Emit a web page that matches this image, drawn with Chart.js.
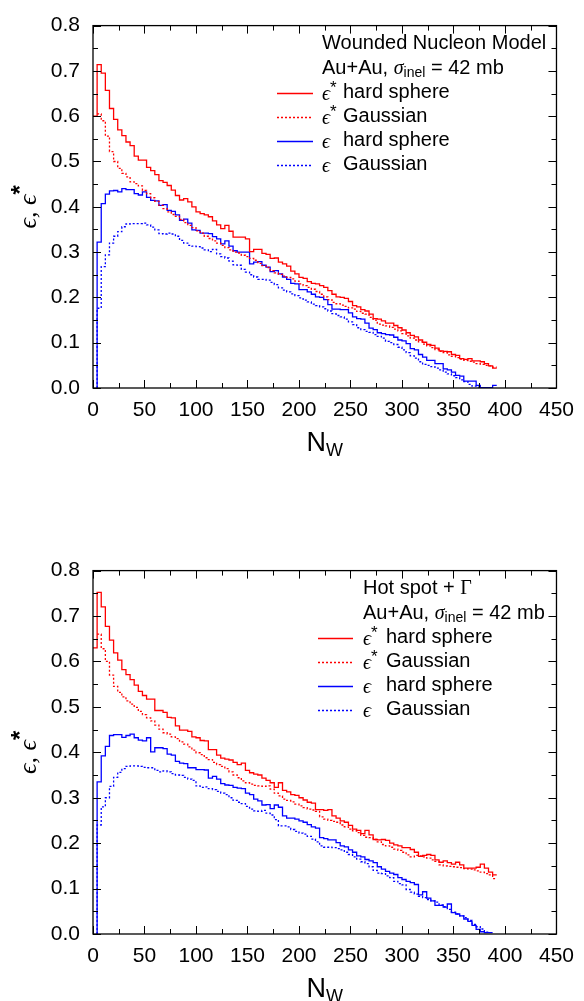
<!DOCTYPE html>
<html>
<head>
<meta charset="utf-8">
<script src="https://cdn.jsdelivr.net/npm/chart.js@4.4.1/dist/chart.umd.min.js"></script>
<style>
html, body { margin: 0; padding: 0; background: #fff; overflow: hidden; }
.panel { position: absolute; left: 0; width: 584px; }
#top { top: 0; height: 545px; }
#bottom { top: 545px; height: 456px; }
</style>
</head>
<body>
<div class="panel" id="top"><canvas id="chartTop"></canvas></div>
<div class="panel" id="bottom"><canvas id="chartBottom"></canvas></div>
<script>
// left edges of the N_W bins (width 4)
const binWidth = 4;
const nwEdges = [
	0, 4, 8, 12, 16, 20, 24, 28, 32, 36,
	40, 44, 48, 52, 56, 60, 64, 68, 72, 76,
	80, 84, 88, 92, 96, 100, 104, 108, 112, 116,
	120, 124, 128, 132, 136, 140, 144, 148, 152, 156,
	160, 164, 168, 172, 176, 180, 184, 188, 192, 196,
	200, 204, 208, 212, 216, 220, 224, 228, 232, 236,
	240, 244, 248, 252, 256, 260, 264, 268, 272, 276,
	280, 284, 288, 292, 296, 300, 304, 308, 312, 316,
	320, 324, 328, 332, 336, 340, 344, 348, 352, 356,
	360, 364, 368, 372, 376, 380, 384, 388
];

// Wounded Nucleon Model
const wnmHardStar = [
	0.600, 0.714, 0.695, 0.657, 0.617, 0.593, 0.570, 0.557, 0.543, 0.535,
	0.512, 0.503, 0.503, 0.487, 0.480, 0.471, 0.458, 0.454, 0.447, 0.437,
	0.425, 0.415, 0.418, 0.411, 0.400, 0.389, 0.385, 0.382, 0.378, 0.369,
	0.360, 0.352, 0.359, 0.346, 0.333, 0.333, 0.333, 0.329, 0.301, 0.306,
	0.306, 0.297, 0.295, 0.286, 0.287, 0.278, 0.274, 0.269, 0.258, 0.252,
	0.244, 0.242, 0.235, 0.231, 0.230, 0.226, 0.222, 0.215, 0.207, 0.201,
	0.200, 0.198, 0.191, 0.182, 0.179, 0.173, 0.170, 0.163, 0.153, 0.152,
	0.148, 0.143, 0.143, 0.138, 0.133, 0.128, 0.122, 0.116, 0.113, 0.106,
	0.101, 0.096, 0.094, 0.088, 0.082, 0.081, 0.080, 0.074, 0.072, 0.065,
	0.063, 0.065, 0.060, 0.060, 0.058, 0.054, 0.049, 0.044
];
const wnmGaussStar = [
	null, 0.605, 0.590, 0.556, 0.522, 0.500, 0.485, 0.474, 0.466, 0.455,
	0.451, 0.446, 0.436, 0.429, 0.420, 0.412, 0.403, 0.396, 0.389, 0.383,
	0.379, 0.372, 0.365, 0.359, 0.354, 0.347, 0.342, 0.335, 0.330, 0.325,
	0.320, 0.315, 0.310, 0.305, 0.300, 0.298, 0.293, 0.290, 0.286, 0.282,
	0.275, 0.270, 0.266, 0.259, 0.254, 0.251, 0.247, 0.244, 0.241, 0.236,
	0.230, 0.226, 0.222, 0.218, 0.213, 0.207, 0.201, 0.195, 0.189, 0.186,
	0.183, 0.180, 0.177, 0.174, 0.169, 0.165, 0.163, 0.156, 0.150, 0.141,
	0.139, 0.137, 0.134, 0.130, 0.126, 0.120, 0.115, 0.110, 0.106, 0.102,
	0.097, 0.093, 0.089, 0.085, 0.081, 0.078, 0.073, 0.070, 0.067, 0.064,
	0.061, 0.059, 0.057, 0.054, 0.052, 0.050, 0.049, 0.046
];
const wnmHard = [
	null, 0.322, 0.407, 0.428, 0.435, 0.436, 0.433, 0.440, 0.438, 0.438,
	0.429, 0.426, 0.433, 0.421, 0.414, 0.413, 0.403, 0.405, 0.392, 0.390,
	0.382, 0.370, 0.373, 0.364, 0.349, 0.348, 0.342, 0.342, 0.341, 0.334,
	0.329, 0.318, 0.325, 0.313, 0.303, 0.300, 0.300, 0.300, 0.274, 0.278,
	0.279, 0.271, 0.267, 0.257, 0.259, 0.252, 0.245, 0.240, 0.231, 0.230,
	0.217, 0.217, 0.212, 0.207, 0.201, 0.200, 0.195, 0.184, 0.174, 0.174,
	0.173, 0.173, 0.166, 0.157, 0.153, 0.152, 0.143, 0.132, 0.129, 0.122,
	0.120, 0.118, 0.117, 0.112, 0.106, 0.104, 0.098, 0.087, 0.084, 0.074,
	0.068, 0.061, 0.061, 0.054, 0.054, 0.042, 0.040, 0.035, 0.028, 0.026,
	0.015, 0.015, 0.015, 0.006, 0.001, 0.001, 0.001, 0.006
];
const wnmGauss = [
	null, 0.176, 0.268, 0.294, 0.320, 0.335, 0.345, 0.356, 0.362, 0.363,
	0.363, 0.363, 0.364, 0.360, 0.355, 0.349, 0.341, 0.340, 0.342, 0.340,
	0.335, 0.326, 0.320, 0.315, 0.313, 0.312, 0.309, 0.305, 0.301, 0.306,
	0.296, 0.290, 0.287, 0.280, 0.272, 0.271, 0.262, 0.256, 0.250, 0.245,
	0.240, 0.240, 0.238, 0.233, 0.228, 0.221, 0.216, 0.212, 0.208, 0.204,
	0.199, 0.194, 0.190, 0.185, 0.182, 0.179, 0.175, 0.170, 0.164, 0.160,
	0.157, 0.152, 0.146, 0.140, 0.133, 0.129, 0.125, 0.123, 0.118, 0.114,
	0.110, 0.103, 0.100, 0.096, 0.090, 0.084, 0.078, 0.071, 0.066, 0.058,
	0.052, 0.050, 0.047, 0.044, 0.040, 0.035, 0.031, 0.027, 0.023, 0.018,
	0.014, 0.008, 0.004, 0.002, 0.001, null, null, null
];

// Hot spot + Gamma
const hotHardStar = [
	0.630, 0.752, 0.720, 0.677, 0.647, 0.619, 0.603, 0.582, 0.571, 0.560,
	0.548, 0.534, 0.525, 0.517, 0.517, 0.492, 0.492, 0.488, 0.477, 0.476,
	0.458, 0.449, 0.449, 0.446, 0.434, 0.432, 0.426, 0.425, 0.406, 0.406,
	0.394, 0.387, 0.385, 0.383, 0.378, 0.373, 0.376, 0.360, 0.355, 0.352,
	0.350, 0.343, 0.338, 0.333, 0.323, 0.333, 0.316, 0.313, 0.307, 0.305,
	0.300, 0.295, 0.290, 0.288, 0.274, 0.274, 0.272, 0.274, 0.260, 0.255,
	0.249, 0.246, 0.239, 0.231, 0.228, 0.221, 0.228, 0.218, 0.208, 0.207,
	0.208, 0.206, 0.200, 0.196, 0.194, 0.190, 0.190, 0.186, 0.180, 0.171,
	0.173, 0.175, 0.173, 0.163, 0.158, 0.161, 0.157, 0.154, 0.158, 0.152,
	0.145, 0.145, 0.145, 0.147, 0.154, 0.145, 0.136, 0.130
];
const hotGaussStar = [
	null, 0.660, 0.628, 0.600, 0.570, 0.545, 0.532, 0.522, 0.513, 0.506,
	0.499, 0.490, 0.483, 0.476, 0.469, 0.460, 0.451, 0.443, 0.440, 0.434,
	0.430, 0.423, 0.418, 0.412, 0.405, 0.399, 0.395, 0.388, 0.384, 0.378,
	0.373, 0.369, 0.364, 0.357, 0.350, 0.344, 0.337, 0.333, 0.330, 0.327,
	0.326, 0.325, 0.326, 0.319, 0.310, 0.304, 0.297, 0.294, 0.291, 0.286,
	0.282, 0.278, 0.275, 0.273, 0.270, 0.258, 0.253, 0.250, 0.248, 0.246,
	0.240, 0.236, 0.231, 0.227, 0.223, 0.217, 0.213, 0.212, 0.208, 0.203,
	0.197, 0.194, 0.191, 0.187, 0.184, 0.180, 0.174, 0.170, 0.173, 0.172,
	0.170, 0.167, 0.163, 0.160, 0.152, 0.150, 0.149, 0.148, 0.147, 0.146,
	0.144, 0.143, 0.141, 0.139, 0.136, 0.133, 0.130, 0.122
];
const hotHard = [
	null, 0.335, 0.392, 0.413, 0.437, 0.439, 0.439, 0.433, 0.437, 0.440,
	0.432, 0.427, 0.425, 0.432, 0.401, 0.410, 0.410, 0.408, 0.396, 0.394,
	0.380, 0.376, 0.375, 0.366, 0.366, 0.362, 0.362, 0.361, 0.343, 0.347,
	0.341, 0.331, 0.328, 0.327, 0.323, 0.321, 0.320, 0.310, 0.307, 0.297,
	0.293, 0.284, 0.285, 0.276, 0.284, 0.279, 0.260, 0.255, 0.255, 0.253,
	0.249, 0.246, 0.241, 0.236, 0.233, 0.212, 0.210, 0.207, 0.207, 0.201,
	0.194, 0.192, 0.185, 0.180, 0.172, 0.170, 0.164, 0.161, 0.157, 0.148,
	0.143, 0.138, 0.134, 0.131, 0.124, 0.120, 0.116, 0.113, 0.109, 0.086,
	0.093, 0.079, 0.073, 0.063, 0.063, 0.059, 0.066, 0.047, 0.044, 0.040,
	0.033, 0.028, 0.019, 0.010, 0.005, 0.003, 0.003, null
];
const hotGauss = [
	null, 0.240, 0.280, 0.300, 0.325, 0.345, 0.356, 0.364, 0.369, 0.370,
	0.370, 0.369, 0.367, 0.366, 0.366, 0.360, 0.357, 0.359, 0.357, 0.353,
	0.350, 0.349, 0.345, 0.341, 0.338, 0.326, 0.323, 0.324, 0.320, 0.318,
	0.314, 0.310, 0.307, 0.300, 0.294, 0.290, 0.287, 0.281, 0.275, 0.271,
	0.270, 0.272, 0.266, 0.262, 0.252, 0.238, 0.238, 0.236, 0.230, 0.226,
	0.222, 0.220, 0.215, 0.209, 0.203, 0.194, 0.191, 0.191, 0.190, 0.188,
	0.185, 0.180, 0.175, 0.170, 0.165, 0.159, 0.155, 0.148, 0.140, 0.134,
	0.133, 0.128, 0.124, 0.116, 0.111, 0.108, 0.098, 0.092, 0.088, 0.083,
	0.080, 0.076, 0.073, 0.070, 0.064, 0.060, 0.054, 0.048, 0.044, 0.040,
	0.036, 0.030, 0.021, 0.016, 0.011, 0.004, null, null
];

const legendLabels = ['hard sphere', 'Gaussian', 'hard sphere', 'Gaussian'];
const legendStarred = [true, true, false, false];
const headingTop = [['Wounded Nucleon Model', 'sans']];
const headingBottom = [['Hot spot + ', 'sans'], ['Γ', 'serif']];

const SANS = "'Liberation Sans', Arial, Helvetica, sans-serif";
const SERIF = "'Liberation Serif', 'DejaVu Serif', 'Times New Roman', serif";
const RED = 'rgb(255, 0, 0)';
const BLUE = 'rgb(0, 0, 255)';

Chart.defaults.font.family = SANS;
Chart.defaults.color = '#000';

function toSteps(values, riseFromZero) {
	const pts = [];
	let last = -1;
	values.forEach((v, i) => {
		if (v === null) {
			return;
		}
		if (last < 0 && riseFromZero) {
			pts.push({ x: nwEdges[i], y: 0 });
		}
		pts.push({ x: nwEdges[i], y: v });
		last = i;
	});
	pts.push({ x: nwEdges[last] + binWidth, y: values[last] });
	return pts;
}

function makeDatasets(hardStar, gaussStar, hard, gauss) {
	const base = { stepped: true, pointRadius: 0, fill: false, borderWidth: 1.3 };
	return [
		{ data: toSteps(hardStar, false), borderColor: RED },
		{ data: toSteps(gaussStar, false), borderColor: RED, borderDash: [2, 2] },
		{ data: toSteps(hard, true), borderColor: BLUE },
		{ data: toSteps(gauss, true), borderColor: BLUE, borderDash: [2, 2] }
	].map((d) => Object.assign({}, base, d));
}

function drawRuns(ctx, x, y, runs) {
	runs.forEach((r) => {
		ctx.font = r.font;
		ctx.fillText(r.text, x, y + (r.dy || 0));
		x += ctx.measureText(r.text).width;
	});
	return x;
}

function runsWidth(ctx, runs) {
	let w = 0;
	runs.forEach((r) => {
		ctx.font = r.font;
		w += ctx.measureText(r.text).width;
	});
	return w;
}

const panelDecor = {
	id: 'panelDecor',
	afterDraw(chart, args, opts) {
		const { ctx, chartArea: a, scales } = chart;
		const x = scales.x;
		const y = scales.y;
		ctx.save();

		// inward ticks on all four sides
		ctx.strokeStyle = '#000';
		ctx.lineWidth = 1;
		ctx.beginPath();
		for (let v = 0; v <= 450; v += 25) {
			const px = Math.round(x.getPixelForValue(v)) + 0.5;
			const len = v % 50 === 0 ? 8 : 5;
			ctx.moveTo(px, a.bottom);
			ctx.lineTo(px, a.bottom - len);
			ctx.moveTo(px, a.top);
			ctx.lineTo(px, a.top + len);
		}
		for (let k = 0; k <= 16; k += 1) {
			const py = Math.round(y.getPixelForValue(k * 0.05)) + 0.5;
			const len = k % 2 === 0 ? 8 : 5;
			ctx.moveTo(a.left, py);
			ctx.lineTo(a.left + len, py);
			ctx.moveTo(a.right, py);
			ctx.lineTo(a.right - len, py);
		}
		ctx.stroke();
		ctx.lineWidth = 1.3;
		ctx.strokeRect(a.left, a.top, a.right - a.left, a.bottom - a.top);

		ctx.fillStyle = '#000';
		ctx.textAlign = 'left';

		// x axis title N_W
		ctx.textBaseline = 'alphabetic';
		const xTitle = [
			{ text: 'N', font: `27px ${SANS}` },
			{ text: 'W', font: `18px ${SANS}`, dy: 5 }
		];
		const xw = runsWidth(ctx, xTitle);
		drawRuns(ctx, (a.left + a.right) / 2 - xw / 2, a.bottom + 63, xTitle);

		// y axis title
		const yTitle = [
			{ text: 'ϵ, ϵ', font: `italic 26px ${SERIF}` },
			{ text: '*', font: `bold 24px ${SANS}`, dy: -8 }
		];
		const yw = runsWidth(ctx, yTitle);
		ctx.save();
		ctx.translate(a.left - 57, (a.top + a.bottom) / 2);
		ctx.rotate(-Math.PI / 2);
		drawRuns(ctx, -yw / 2, 0, yTitle);
		ctx.restore();

		// legend block
		const rowY = [18, 43, 67, 91, 115, 139].map((d) => a.top + d);
		const fs = 20;
		ctx.textBaseline = 'middle';
		drawRuns(ctx, opts.textX, rowY[0], opts.heading.map(([text, fam]) => ({
			text,
			font: `${fs}px ${fam === 'serif' ? SERIF : SANS}`
		})));
		drawRuns(ctx, opts.textX, rowY[1], [
			{ text: 'Au+Au, ', font: `${fs}px ${SANS}` },
			{ text: 'σ', font: `italic ${fs}px ${SERIF}` },
			{ text: 'inel', font: `14px ${SANS}`, dy: 5 },
			{ text: ' = 42 mb', font: `${fs}px ${SANS}` }
		]);
		chart.data.datasets.forEach((ds, i) => {
			const ly = rowY[i + 2];
			ctx.save();
			ctx.strokeStyle = ds.borderColor;
			ctx.lineWidth = 1.3;
			ctx.setLineDash(ds.borderDash || []);
			ctx.beginPath();
			ctx.moveTo(opts.lineX0, Math.round(ly) + 0.5);
			ctx.lineTo(opts.lineX1, Math.round(ly) + 0.5);
			ctx.stroke();
			ctx.restore();
			const sym = [{ text: 'ϵ', font: `italic ${fs}px ${SERIF}`, dy: 2 }];
			if (legendStarred[i]) {
				sym.push({ text: '*', font: `17px ${SANS}`, dy: -4 });
			}
			drawRuns(ctx, opts.textX, ly, sym);
			ctx.font = `${fs}px ${SANS}`;
			ctx.fillText(legendLabels[i], opts.labelX, ly);
		});
		ctx.restore();
	}
};

function buildChart(canvasId, datasets, decor) {
	return new Chart(document.getElementById(canvasId), {
		type: 'line',
		data: { datasets },
		options: {
			responsive: true,
			maintainAspectRatio: false,
			animation: false,
			events: [],
			layout: { padding: { top: 12, right: 21, left: 0, bottom: 0 } },
			plugins: {
				legend: { display: false },
				tooltip: { enabled: false },
				panelDecor: decor
			},
			scales: {
				x: {
					type: 'linear',
					min: 0,
					max: 450,
					afterFit: (s) => { s.height = decor.xAxisHeight; },
					grid: { display: false, drawTicks: false },
					border: { display: false },
					ticks: { stepSize: 50, padding: 10, maxRotation: 0, autoSkip: false, color: '#000', font: { size: 21 } }
				},
				y: {
					min: 0,
					max: 0.8,
					afterFit: (s) => { s.width = 93; },
					grid: { display: false, drawTicks: false },
					border: { display: false },
					ticks: { stepSize: 0.1, padding: 13, color: '#000', font: { size: 21 }, callback: (v) => v.toFixed(1) }
				}
			}
		},
		plugins: [panelDecor]
	});
}

buildChart('chartTop', makeDatasets(wnmHardStar, wnmGaussStar, wnmHard, wnmGauss), {
	heading: headingTop, lineX0: 277, lineX1: 313, textX: 322, labelX: 343, xAxisHeight: 157
});
buildChart('chartBottom', makeDatasets(hotHardStar, hotGaussStar, hotHard, hotGauss), {
	heading: headingBottom, lineX0: 318, lineX1: 353, textX: 363, labelX: 386, xAxisHeight: 67
});
</script>
</body>
</html>
